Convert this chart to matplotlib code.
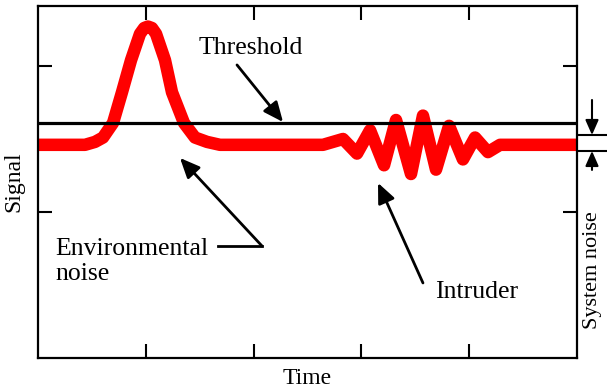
import numpy as np
import matplotlib.pyplot as plt

plt.rcParams['font.family'] = ['Liberation Serif', 'DejaVu Serif']

# signal trace (time, signal)
t_sig = [0.0, 0.436, 0.529, 0.603, 0.696, 0.779, 0.863, 0.946, 0.985, 1.020,
         1.057, 1.095, 1.178, 1.243, 1.354, 1.456, 1.568, 1.688,
         2.644, 2.829, 2.959, 3.080, 3.210, 3.321, 3.460, 3.571, 3.692,
         3.813, 3.942, 4.054, 4.174, 4.286, 5.0]
s_sig = [1.46, 1.46, 1.48, 1.51, 1.61, 1.82, 2.04, 2.22, 2.26, 2.27,
         2.26, 2.22, 2.04, 1.82, 1.61, 1.51, 1.48, 1.46,
         1.46, 1.50, 1.40, 1.56, 1.32, 1.63, 1.26, 1.66, 1.29,
         1.59, 1.36, 1.51, 1.41, 1.46, 1.46]
threshold = 1.61
noise_band = [1.418, 1.527]

fig = plt.figure(figsize=(6.07, 3.91), dpi=100)
ax = fig.add_axes([0.0626, 0.0844, 0.888, 0.900])

ax.plot(t_sig, s_sig, color='#ff0000', lw=9, solid_joinstyle='round',
        solid_capstyle='butt')
ax.axhline(threshold, color='k', lw=2.3)

ax.set_xlim(0, 5)
ax.set_ylim(0, 2.41)
ax.set_xticks([1, 2, 3, 4])
ax.set_yticks([1, 2])
ax.set_xticklabels([])
ax.set_yticklabels([])
ax.tick_params(direction='in', length=10, width=1.5, top=True, right=True)
for sp in ax.spines.values():
    sp.set_linewidth(1.6)

ax.set_xlabel('Time', fontsize=17, labelpad=4)
ax.set_ylabel('Signal', fontsize=17, labelpad=6)

arr = dict(arrowstyle='-|>,head_length=0.5,head_width=0.22', mutation_scale=24,
           lw=2, color='k', shrinkA=0, shrinkB=0)

ax.annotate('', xy=(2.273, 1.616), xytext=(1.846, 2.007), arrowprops=arr)
ax.text(1.976, 2.123, 'Threshold', fontsize=18.5, ha='center', va='center')

ax.text(0.158, 0.66, 'Environmental\nnoise', fontsize=18.5, ha='left',
        va='center', linespacing=1.2)
ax.plot([1.67, 2.078], [0.767, 0.767], color='k', lw=2)
ax.annotate('', xy=(1.317, 1.370), xytext=(2.078, 0.767), arrowprops=arr)

ax.annotate('', xy=(3.154, 1.199), xytext=(3.571, 0.514), arrowprops=arr)
ax.text(3.683, 0.452, 'Intruder', fontsize=18.5, ha='left', va='center')

# system noise marker outside the frame
small = dict(arr, mutation_scale=18, lw=1.5)
for yv in noise_band:
    ax.plot([5.009, 5.278], [yv, yv], color='k', lw=1.5, clip_on=False)
ax.annotate('', xy=(5.139, noise_band[1]), xytext=(5.139, 1.767),
            arrowprops=small, annotation_clip=False)
ax.annotate('', xy=(5.139, noise_band[0]), xytext=(5.139, 1.288),
            arrowprops=small, annotation_clip=False)
ax.text(5.148, 0.603, 'System noise', fontsize=16, rotation=90,
        ha='center', va='center', clip_on=False)

fig.savefig('out.png', dpi=100)
